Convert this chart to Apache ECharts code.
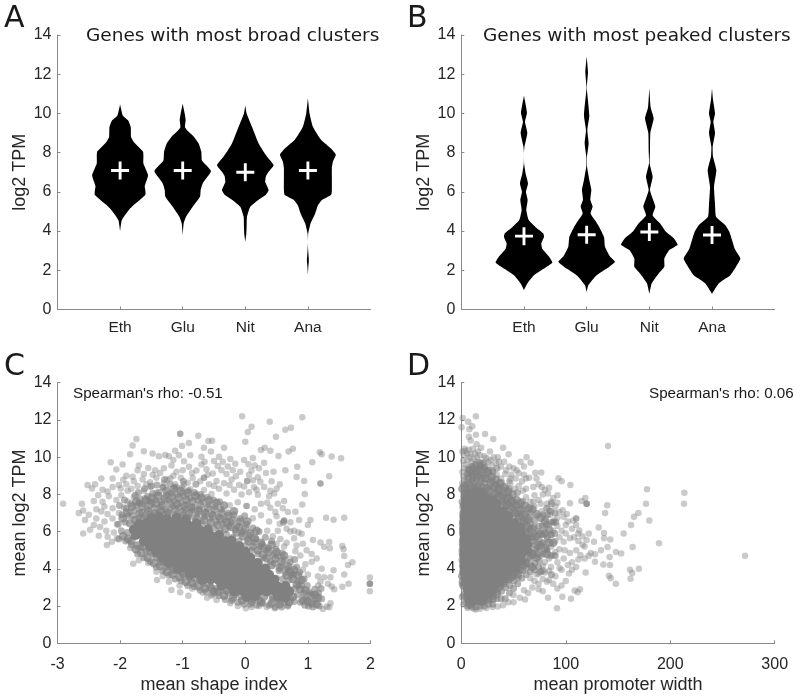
<!DOCTYPE html>
<html><head><meta charset="utf-8"><style>html,body{margin:0;padding:0;background:#fff}#c{width:800px;height:698px}</style>
<script src="https://cdn.jsdelivr.net/npm/echarts@6/dist/echarts.min.js"></script></head><body><div id="c"></div>
<script>
const categories=['Eth','Glu','Nit','Ana'];
// violin outlines: [log2 TPM, density]
const broadEth=[[4.0,0],[4.55,5],[5.05,25],[5.35,42],[5.6,60],[5.85,76],[6.05,76],[6.3,74],[6.85,84],[7.45,70],[7.8,70],[8.05,69],[8.3,55],[8.5,43],[8.8,33],[9.3,32],[9.65,24],[9.9,8],[10.45,0]];
const broadGlu=[[3.8,0],[4.4,3],[4.73,10],[5.24,30],[5.75,52],[6.1,54],[6.43,60],[7.06,85],[7.6,58],[8.04,56],[8.47,48],[8.8,34],[9.06,18],[9.3,7],[9.66,9],[10,6],[10.5,0]];
const broadNit=[[3.45,0],[3.85,3],[4.2,4],[4.73,5],[5.24,15],[5.6,40],[5.85,62],[6.09,70],[6.5,60],[6.8,62],[7.02,70],[7.36,85],[7.8,65],[8.47,40],[9.32,20],[10,4],[10.4,0]];
const broadAna=[[1.8,0],[2.2,1.5],[2.5,3],[3.0,1],[3.45,0],[3.88,1],[4.39,8],[4.9,22],[5.3,30],[5.58,42],[5.85,70],[6.09,72],[6.77,72],[7.2,72],[7.53,75],[7.9,84],[8.2,70],[8.64,40],[9.32,15],[10,5],[10.77,0]];
const peakEth=[[1.0,0],[1.33,10],[1.75,30],[2.18,68],[2.4,85],[2.7,75],[3.1,55],[3.37,52],[3.7,60],[3.88,58],[4.2,35],[4.56,14],[5.07,7],[5.58,11],[6.0,6],[6.43,12],[6.94,5],[7.45,0.5],[7.96,0],[8.3,1.5],[9.0,10],[9.57,3],[10.03,9],[10.9,0]];
const peakGlu=[[0.9,0],[1.24,5],[1.75,30],[2.18,68],[2.43,85],[2.7,70],[3.2,55],[3.7,52],[4.2,38],[4.55,25],[4.9,12],[5.25,18],[5.6,11],[6.1,14],[6.6,8],[7.3,1],[7.8,1],[8.47,6],[9.15,2],[9.9,8],[11.3,0.5],[12.1,4],[12.9,0]];
const peakNit=[[0.8,0],[1.33,7],[1.84,28],[2.18,45],[2.6,45],[3.03,60],[3.3,85],[3.6,75],[3.96,50],[4.4,32],[4.8,10],[5.24,18],[5.66,10],[6.1,2],[6.77,10],[7.45,1],[8.1,2],[9,3],[9.75,13],[10.3,4],[11.28,0]];
const peakAna=[[0.8,0],[1.33,20],[1.75,55],[2.18,72],[2.6,85],[3.1,68],[3.54,60],[3.96,52],[4.3,40],[4.73,12],[5.4,9],[6.26,6],[7.1,13],[7.8,3],[8.3,2],[9,9],[9.57,4],[10,9],[10.7,3],[11.28,0]];
const broadMeans=[7.09,7.09,7.0,7.09];
const peakMeans=[3.74,3.81,3.95,3.8];
// panel C: single readable dots
const shapeLoose=[[-2.91,7.5],[-0.05,12.2],[0.91,12.14],[0.39,11.9],[0.1,11.64],[0.04,11.35],[0.73,11.58],[0.64,11.47],[0.49,11.1],[-1.04,11.26],[-1.04,11.26],[-0.75,11.15],[-1.74,10.97],[-1.8,10.63],[0,10.83],[-0.59,10.87],[-0.53,10.88],[-0.9,10.76],[-1.01,10.6],[-0.66,10.5],[-0.34,10.5],[0.31,10.5],[0.25,10.38],[0.4,10.35],[0.76,10.45],[0.69,10.3],[0.53,10.06],[1.19,10.26],[1.22,10.15],[1.38,10.04],[1.53,9.94],[1.07,9.72],[0.83,9.49],[0.64,9.29],[0.45,9.22],[0.33,9.15],[0.82,8.93],[0.94,8.72],[1.34,8.97],[1.2,8.59],[1.2,8.59],[0.95,8.02],[0.91,7.45],[0.8,7.07],[1.04,6.62],[1.29,6.75],[1.41,6.64],[1.58,6.75],[1,6.36],[0.86,6.62],[1.08,5.55],[0.9,5.89],[1.99,3.54],[1.99,3.2],[1.99,3.2],[1.99,3.2],[1.99,2.8],[1.71,4.35],[1.64,4.2],[1.58,4.69],[1.55,5.23],[1.57,5.05],[1.35,5.1],[1.34,5.44],[1.2,5.42],[1.26,5.19],[1.41,3.92],[1.58,3.69],[1.65,3.2],[1.55,3.04],[1.36,3.55],[1.38,3.05],[1.42,2.9],[-2.66,7],[-2.61,7.5],[-2.59,7.14],[-2.56,6.62],[-2.59,5.9],[-2.48,6.1],[-2.52,8.5],[-2.45,8.32],[-2.3,8.86],[-2.15,9.72],[-1.96,9.61],[-2.06,9.34],[-1.84,10.15],[-2.34,5.78],[-2.2,5.73],[-2.21,5.28],[-2.13,5.46],[-1.79,4.28],[-1.7,4.46],[-1.41,3.4],[-1.18,2.86],[-1.04,2.74],[-0.91,2.56],[-0.61,2.45],[-0.46,2.33],[0.01,1.88],[0.47,1.88],[1.24,1.84],[1.34,1.93]];
// panel C: the thick spread around the mass
const shapeSpread=[[-1.62,10.32],[-1.38,10.05],[-1.28,10.12],[-1.12,10.35],[-1.06,10.1],[-0.98,9.78],[-0.7,10.02],[-0.55,10.3],[-0.42,10.02],[-0.36,9.75],[-0.16,9.65],[-0.02,9.85],[0.05,9.62],[0.15,9.55],[-0.28,9.5],[-1.55,9.42],[-1.44,9.3],[-1.36,9.15],[-1.3,9.4],[-1.18,9.55],[-1.1,9.22],[-1,9.3],[-0.9,9.48],[-0.78,9.28],[-0.7,9.6],[-0.62,9.35],[-0.52,9.12],[-0.44,9.52],[-0.3,9.1],[-0.2,9.3],[-0.08,9.22],[0.06,9.05],[0.12,8.76],[0.2,8.92],[-1.9,9],[-1.8,8.95],[-1.72,9.3],[-1.64,8.8],[-1.52,8.65],[-1.42,8.9],[-1.3,8.6],[-1.2,8.85],[-1.12,8.55],[-1.03,8.9],[-0.92,8.62],[-0.84,8.88],[-0.72,8.7],[-0.66,8.9],[-0.66,8.9],[-0.58,8.55],[-0.46,8.72],[-0.34,8.6],[-0.22,8.8],[-0.1,8.5],[0.03,8.72],[0.03,8.72],[0.14,8.38],[0.24,8.68],[0.46,8.05],[0.5,8.3],[-2.2,8.15],[-2.12,8.4],[-2.02,8.5],[-1.99,8.32],[-1.9,8.55],[-1.82,8.3],[-1.72,8.45],[-1.62,8.2],[-1.52,8.38],[-1.42,8.1],[-1.32,8.35],[-1.22,8.05],[-1.12,8.3],[-1,8.08],[-0.88,8.28],[-0.78,8.02],[-0.66,8.24],[-0.54,8.02],[-0.42,8.3],[-0.3,8.05],[-0.18,8.25],[-0.06,8],[0.06,8.12],[0.2,7.98],[0.38,7.9],[-2.35,7.95],[-2.28,7.6],[-2.18,7.9],[-2.06,7.7],[-1.98,7.95],[-1.88,7.62],[-1.78,7.85],[-1.7,7.55],[-1.7,7.55],[-1.6,7.8],[-1.5,7.55],[-0.25,7.42],[-0.12,7.58],[0.02,7.38],[0.02,7.38],[0.15,7.2],[0.25,7.5],[0.4,7.28],[0.52,7.5],[0.62,7.65],[-2.38,7.2],[-2.3,7.08],[-2.2,6.95],[-2.12,7.25],[-2.02,7],[-1.94,7.3],[-1.84,7.05],[0.12,6.72],[0.25,6.88],[0.38,6.55],[0.5,6.82],[0.55,6.42],[0.62,6.6],[0.62,6.6],[0.66,6.15],[0.72,6.0],[-2.42,6.35],[-2.38,6.7],[-2.25,6.55],[-2.12,6.7],[-2.05,6.4],[0.35,6.05],[0.44,5.75],[0.52,6.05],[0.56,5.6],[0.66,5.4],[0.78,5.65],[0.82,5.25],[-2.22,6.05],[-2.1,5.95],[0.5,5.35],[0.62,5.2],[0.72,4.55],[0.8,4.95],[0.88,4.72],[0.96,4.25],[0.92,3.95],[1,3.7],[-1.84,5.12],[-1.55,4.32],[-1.42,3.85],[-1.32,3.62],[-1.22,3.3],[-1.05,3.1],[-0.85,2.95],[-0.68,2.72],[-0.54,2.55],[-0.24,2.15],[-0.12,2.0],[0.1,1.95],[0.22,2.0],[0.34,1.95],[0.68,1.98],[0.72,2.9],[0.86,3.1],[0.92,2.5],[1.06,4.38],[1.16,3.6],[1.22,4],[1.3,1.98],[1.36,2.15],
[-1.48,10.2],[-1.7,9.55],[-1.62,9.1],[-1.22,10.05],[-1.15,9.85],[-0.88,10.1],[-0.65,9.75],[-0.5,9.8],[-0.24,9.9],[0.12,9.95],[0.22,9.4],[0.3,9.7],[0.1,9.3],[-0.15,8.98],[-0.38,9.3],[-0.6,9.05],[-0.85,9.15],[-1.15,9],[-1.48,9.05],[-1.78,8.7],[-2.12,8.85],[-2.28,8.25],[-2.4,8.55],[-1.95,8.78],[0.3,8.4],[0.42,8.7],[0.55,8.55],[0.35,7.55],[0.48,7.05],[0.6,7.25],[0.68,7.05],[0.72,6.5],[0.78,6.05],[0.85,5.95],[0.92,5.35],[0.98,5],[1.06,4.8],[1.14,4.55],[1.2,3.3],[1.26,3.55],[1.32,3.2],[1.16,3.1],[0.4,8.2],[0.18,8.25],[-0.02,8.42],[-0.25,8.5],[-0.5,8.45],[-0.98,8.55],[-1.25,8.8],[-1.58,8.55],[-1.88,8.2],[-2.25,7.35],[-2.42,7.65],[-2.5,6.9],[-2.32,6.25],[-2.05,5.65]];
// panel C: darker edge of the mass
const shapeDense=[[-2.02,5.6],[-1.98,6.05],[-2.03,6.4],[-1.97,6.9],[-2.01,7.4],[-1.91,5.5],[-1.88,5.95],[-1.92,6.5],[-1.87,6.85],[-1.9,7.25],[-1.93,7.7],[-1.82,5.3],[-1.78,5.75],[-1.8,6.85],[-1.77,7.15],[-1.83,7.5],[-1.76,7.95],[-1.72,4.8],[-1.67,5.15],[-1.7,6.75],[-1.66,7.05],[-1.73,7.4],[-1.68,7.75],[-1.71,8.1],[-1.62,4.6],[-1.58,4.95],[-1.6,6.85],[-1.57,7.2],[-1.63,7.5],[-1.56,7.9],[-1.61,8.3],[-1.52,4.4],[-1.47,4.8],[-1.51,6.95],[-1.46,7.3],[-1.53,7.65],[-1.48,8.05],[-1.5,8.45],[-1.42,4.1],[-1.37,4.55],[-1.4,7],[-1.36,7.3],[-1.43,7.7],[-1.38,8.1],[-1.41,8.5],[-1.32,3.9],[-1.28,4.35],[-1.3,6.95],[-1.27,7.2],[-1.33,7.6],[-1.26,7.95],[-1.31,8.4],[-1.29,8.8],[-1.22,3.65],[-1.17,4.05],[-1.21,7],[-1.16,7.35],[-1.23,7.7],[-1.18,8.05],[-1.2,8.55],[-1.12,3.45],[-1.07,3.9],[-1.1,6.95],[-1.06,7.3],[-1.13,7.65],[-1.08,8],[-1.11,8.4],[-1.02,3.35],[-0.97,3.7],[-1,6.9],[-0.96,7.2],[-1.03,7.55],[-0.98,7.9],[-1.01,8.35],[-0.99,8.7],[-0.92,3.1],[-0.87,3.45],[-0.9,6.8],[-0.86,7.15],[-0.93,7.45],[-0.88,7.8],[-0.91,8.2],[-0.82,3.05],[-0.78,3.4],[-0.8,6.6],[-0.77,6.95],[-0.83,7.3],[-0.76,7.7],[-0.81,8.1],[-0.79,8.55],[-0.72,2.85],[-0.67,3.2],[-0.7,6.45],[-0.66,6.8],[-0.73,7.2],[-0.68,7.6],[-0.71,8],[-0.62,2.75],[-0.57,3.1],[-0.6,6.3],[-0.56,6.7],[-0.63,7.05],[-0.58,7.45],[-0.61,7.85],[-0.52,2.65],[-0.47,2.95],[-0.5,6.2],[-0.46,6.55],[-0.53,6.95],[-0.48,7.35],[-0.51,7.7],[-0.42,2.55],[-0.37,2.85],[-0.4,6.05],[-0.36,6.4],[-0.43,6.8],[-0.38,7.2],[-0.41,7.6],[-0.32,2.35],[-0.27,2.7],[-0.3,5.85],[-0.26,6.3],[-0.33,6.65],[-0.28,7],[-0.22,2.3],[-0.17,2.6],[-0.2,5.7],[-0.16,6.1],[-0.23,6.5],[-0.18,6.9],[-0.12,2.2],[-0.07,2.5],[-0.1,5.5],[-0.06,5.9],[-0.13,6.3],[-0.08,6.7],[-0.02,2.1],[0.03,2.4],[0,5.25],[0.04,5.6],[-0.03,6],[0.02,6.4],[-0.01,6.85],[0.08,2.1],[0.13,2.35],[0.1,5],[0.14,5.4],[0.07,5.8],[0.12,6.2],[0.18,2.05],[0.23,2.3],[0.2,4.8],[0.24,5.2],[0.17,5.6],[0.22,6],[0.28,2.15],[0.3,4.6],[0.34,5],[0.27,5.35],[0.32,5.7],[0.38,2.05],[0.43,2.35],[0.4,4.4],[0.44,4.75],[0.37,5.1],[0.42,5.5],[0.48,1.95],[0.53,2.25],[0.5,3.5],[0.54,3.9],[0.47,4.3],[0.52,4.7],[0.49,5.05],[0.58,1.95],[0.63,2.2],[0.6,3.45],[0.64,3.8],[0.57,4.15],[0.62,4.5],[0.59,4.85],[0.61,6.5],[0.68,2.05],[0.73,2.4],[0.7,3.4],[0.74,3.7],[0.67,4],[0.72,4.35],[0.78,2.25],[0.83,2.6],[0.8,2.95],[0.84,3.3],[0.77,3.7],[0.82,4.1],[0.79,4.5],[0.88,2.2],[0.93,2.7],[0.9,3.1],[0.94,3.45],[0.87,3.8],[1.01,2],[0.97,2.4],[1.02,2.75],[0.99,3.1],[1.08,1.95],[1.12,2.3],[1.07,2.65],[1.11,2.9],[1.18,2],[1.22,2.4],[1.17,2.7],[1.21,2.95],[0.95,2.05]];
// panel C: filling between edge and mass
const shapeFill=[[-1.96,6.72],[-1.89,7.02],[-1.84,6.45],[-1.81,7.35],[-1.76,6.62],[-1.74,7.62],[-1.69,6.98],[-1.65,7.35],[-1.63,6.72],[-1.59,7.68],[-1.55,7.08],[-1.52,7.45],[-1.49,7.82],[-1.44,6.98],[-1.42,7.5],[-1.39,7.92],[-1.35,7.1],[-1.33,7.42],[-1.29,7.78],[-1.26,8.2],[-1.24,7.05],[-1.2,7.5],[-1.17,7.88],[-1.14,8.3],[-1.12,7.2],[-1.09,7.48],[-1.06,7.82],[-1.03,8.18],[-1,7.05],[-0.97,7.38],[-0.94,7.7],[-0.92,8.08],[-0.89,6.98],[-0.86,7.3],[-0.84,7.62],[-0.8,7.92],[-0.78,6.72],[-0.75,7.1],[-0.72,7.42],[-0.7,7.82],[-0.66,6.62],[-0.64,6.98],[-0.6,7.28],[-0.58,7.68],[-0.55,6.48],[-0.52,6.85],[-0.49,7.18],[-0.46,7.55],[-0.44,6.35],[-0.4,6.7],[-0.38,7],[-0.34,7.4],[-0.32,6.15],[-0.3,6.5],[-0.27,6.85],[-0.23,6.25],[-0.2,6.62],[-0.18,7.1],[-0.14,5.95],[-0.1,6.25],[-0.08,6.55],[-0.04,5.75],[0,6.15],[0.03,6.55],[0.05,5.5],[0.08,5.9],[0.12,5.2],[0.15,5.65],[0.18,6.05],[0.2,5],[0.25,5.4],[0.28,4.75],[0.3,5.15],[0.34,4.55],[0.38,4.9],[0.42,5.3],[0.42,4.2],[0.48,4.55],[0.5,4.9],[0.55,4.05],[0.58,4.4],[0.62,4.72],[0.66,3.65],[0.68,4.15],[0.72,3.85],[0.76,3.45],[0.78,3.95],[0.82,3.15],[0.84,3.65],[0.88,2.9],[0.9,3.4],[0.92,2.3],[0.96,2.85],[1,2.25],[1.04,2.55],[1.06,2.15],[1.12,2.6],[1.14,2.1],[1.16,2.45],[-1.95,5.75],[-1.87,5.6],[-1.82,5.5],[-1.75,5.05],[-1.72,5.25],[-1.66,4.85],[-1.62,5.2],[-1.56,4.6],[-1.52,4.95],[-1.46,4.3],[-1.42,4.65],[-1.36,4.15],[-1.34,4.4],[-1.26,3.85],[-1.24,4.15],[-1.16,3.7],[-1.14,3.95],[-1.05,3.55],[-1,3.75],[-0.95,3.3],[-0.9,3.6],[-0.85,3.25],[-0.75,3.05],[-0.72,3.4],[-0.64,2.95],[-0.55,3],[-0.5,2.8],[-0.44,2.75],[-0.34,2.55],[-0.3,2.85],[-0.2,2.45],[-0.14,2.75],[-0.05,2.3],[0,2.62],[0.1,2.25],[0.14,2.5],[0.25,2.2],[0.3,2.5],[0.42,2.15],[0.44,2.55],[0.55,2.1],[0.7,2.2],[0.76,2.5]];
// panel C: the solid mass
const shapeCore=[[-1.5,6.7],[-1.38,6.78],[-1.25,6.68],[-1.1,6.75],[-0.95,6.65],[-1.7,6.4],[-1.58,6.45],[-1.45,6.38],[-1.32,6.46],[-1.18,6.4],[-1.05,6.44],[-0.92,6.37],[-0.78,6.42],[-1.78,6.1],[-1.66,6.14],[-1.52,6.08],[-1.4,6.13],[-1.26,6.06],[-1.12,6.12],[-0.98,6.08],[-0.85,6.14],[-0.72,6.06],[-0.6,6.1],[-1.75,5.82],[-1.62,5.78],[-1.48,5.84],[-1.35,5.78],[-1.22,5.84],[-1.08,5.78],[-0.95,5.83],[-0.82,5.78],[-0.68,5.84],[-0.55,5.78],[-0.42,5.82],[-1.62,5.5],[-1.5,5.54],[-1.38,5.48],[-1.25,5.53],[-1.12,5.47],[-0.98,5.53],[-0.85,5.48],[-0.72,5.53],[-0.58,5.47],[-0.45,5.52],[-0.32,5.48],[-0.22,5.52],[-1.52,5.2],[-1.4,5.24],[-1.28,5.18],[-1.15,5.24],[-1.02,5.18],[-0.88,5.23],[-0.75,5.18],[-0.62,5.23],[-0.48,5.17],[-0.35,5.23],[-0.22,5.18],[-0.1,5.22],[-1.42,4.9],[-1.3,4.94],[-1.18,4.88],[-1.05,4.94],[-0.92,4.88],[-0.78,4.93],[-0.65,4.88],[-0.52,4.93],[-0.38,4.88],[-0.25,4.93],[-0.12,4.88],[0,4.92],[-1.32,4.6],[-1.2,4.64],[-1.08,4.58],[-0.95,4.63],[-0.82,4.58],[-0.68,4.63],[-0.55,4.58],[-0.42,4.63],[-0.28,4.58],[-0.15,4.63],[-0.02,4.58],[0.08,4.6],[-1.22,4.3],[-1.1,4.34],[-0.98,4.28],[-0.85,4.33],[-0.72,4.28],[-0.58,4.33],[-0.45,4.28],[-0.32,4.33],[-0.18,4.28],[-0.05,4.33],[0.08,4.28],[0.2,4.32],[-1.08,4],[-0.95,4.04],[-0.82,3.98],[-0.7,4.03],[-0.56,3.98],[-0.42,4.03],[-0.3,3.98],[-0.16,4.03],[-0.03,3.98],[0.1,4.03],[0.22,3.98],[0.32,4.02],[-0.88,3.7],[-0.76,3.74],[-0.62,3.68],[-0.5,3.73],[-0.36,3.68],[-0.23,3.73],[-0.1,3.68],[0.03,3.73],[0.16,3.68],[0.28,3.73],[0.38,3.68],[-0.68,3.4],[-0.55,3.43],[-0.42,3.38],[-0.28,3.43],[-0.15,3.38],[-0.02,3.43],[0.1,3.38],[0.22,3.43],[0.35,3.38],[0.46,3.42],[-0.38,3.1],[-0.25,3.14],[-0.12,3.08],[0,3.13],[0.13,3.08],[0.26,3.13],[0.38,3.08],[0.52,3.05],[0.64,3.08],[-0.18,2.8],[-0.05,2.84],[0.08,2.78],[0.22,2.83],[0.34,2.78],[0.48,2.8],[0.6,2.84],[0.7,2.78],[0.02,2.5],[0.16,2.54],[0.52,2.5],[0.64,2.46]];
// panel D: single readable dots
const widthLoose=[[271.6,4.7],[213.5,8.09],[213.2,7.5],[177.8,8.28],[176.8,7.5],[189.3,5.38],[180,6.6],[169.5,7],[165.3,6.8],[162.5,6.35],[164,5.17],[155.4,5.9],[140.4,10.6],[170,4],[161.5,3.95],[163.7,3.77],[162,3.47],[148,3.2],[143,3.5],[141.4,3.63],[142.4,4.2],[136,4.24],[142,4.63],[148,4.9],[153,4.83],[140,5.17],[142.6,5.58],[136.6,5.64],[136.6,5.92],[131.5,6.22],[137.6,7],[139.7,7.42],[118.7,7.8],[120,7.5],[120,7.5],[120,7.5],[115,7.64],[104.4,8.5],[96,8.7],[93,8.87],[92,7.96],[104,7.53],[110,6.7],[110,6.7],[113,6.06],[122,5.9],[127,5.46],[133.7,5],[128,4.78],[122,4.7],[128,4.38],[119,3.8],[113.6,2.9],[111.4,2.74],[108.5,2.83],[105,2.4],[96.7,2.5],[83,2.45],[91.6,1.88],[70.8,9.16],[76.5,9.18],[66.4,9.7],[62.5,10],[56.8,9.75],[45.3,10.16],[40,10.5],[30.6,10.97],[22.7,11.25],[14,12.2],[1.3,12.1],[0.3,11.6],[6.7,11.9],[10.5,11.66],[7.7,11.5],[14,11.2],[7.3,11.1],[9,10.9],[14.7,10.7],[19,10.5],[27.4,10.3],[35,10],[60,9.5],[53,9.3]];
// panel D: the thick spread around the mass
const widthSpread=[[1,10.3],[2.5,10.1],[4,10.35],[5.5,10.2],[7,10.4],[9,10.15],[11,10.45],[13,10.2],[16,10.3],[22,10.05],[2,9.8],[4,9.6],[6,9.85],[8,9.5],[10,9.75],[13,9.6],[16,9.75],[18,9.55],[20,9.7],[23,9.5],[26,9.75],[29,9.55],[33,9.7],[38,9.5],[43,9.3],[48,9.05],[1,9.2],[3,9.4],[5,9.1],[7,9.3],[10,9.05],[12,9.35],[15,9.15],[18,9.35],[21,9.1],[24,9.3],[27,9.05],[30,9.3],[34,9.05],[38,8.85],[42,9.1],[46,8.7],[52,8.85],[58,8.7],[62,8.85],[1,8.6],[3,8.8],[35,8.4],[39,8.65],[43,8.35],[47,8.6],[51,8.3],[55,8.45],[59,8.2],[62,8.3],[69,8.4],[74,8.55],[80,8.25],[84,8.35],[2,8.1],[59,7.65],[62,7.85],[66,7.6],[70,7.95],[74,7.7],[78,8],[82,7.5],[86,7.6],[90,7.35],[1,7.3],[2,6.7],[66,7.05],[70,7.35],[73,6.85],[77,7.1],[81,6.7],[85,6.9],[89,6.6],[94,7.05],[98,6.8],[102,6.55],[80,6.2],[84,6.35],[88,6.05],[92,6.3],[96,6.05],[100,6.35],[106,6.15],[112,5.9],[116,5.75],[82,5.55],[86,5.8],[90,5.5],[94,5.7],[98,5.45],[104,5.65],[108,5.7],[112,5.5],[116,5.3],[120,5.55],[78,5.4],[82,5.05],[86,5.2],[90,4.9],[94,5.05],[99,5],[104,4.85],[110,5],[114,4.75],[118,4.55],[124,4.85],[76,4.7],[80,4.35],[84,4.55],[88,4.75],[92,4.35],[98,4.55],[102,4.2],[106,4.35],[112,4.5],[74,3.75],[78,4.15],[84,3.9],[90,3.6],[96,3.95],[100,3.35],[103,3.75],[70,3.35],[74,3.2],[78,3.45],[82,3.3],[88,3.2],[96,3.1],[60,2.85],[64,2.7],[68,3],[74,2.9],[50,2.6],[56,2.45],[61,2.35],[45,2.2],[40,2.05],[30,1.95],[24,1.9],[18,1.85],[12,1.85],[6,1.9],[2,2.1],[0.5,3.2],[0.3,5],[0.5,5.4],[0.8,6],[0.8,6.6],
[3,10.45],[8,10],[12,9.9],[15,10],[18,10.1],[24,9.95],[31,10],[36,9.75],[41,9.75],[46,9.5],[50,9.4],[55,9.15],[60,9.05],[65,8.9],[72,8.85],[77,8.4],[83,8.05],[88,7.8],[92,7.55],[97,7.15],[101,6.95],[107,6.6],[69,7.6],[76,7.5],[84,7.15],[92,6.75],[100,5.9],[110,6.35],[118,5.2],[72,5],[80,3.8],[86,4.1],[94,4.05],[106,3.95],[110,4.1],[66,3.5],[72,3.7],[84,3.4],[92,2.95],[78,2.8],[50,2.2],[35,1.98],[14,1.82],[9,2.05],[47,8.85],[28,9.85],[6,9.35],[2,8.95]];
// panel D: darker edge of the mass
const widthDense=[[1,2.5],[0.8,3.3],[1.4,3.9],[0.6,4.5],[1.2,5.2],[1.5,5.8],[0.9,6.4],[1.3,7],[0.7,7.6],[4,2.2],[3.5,8.1],[4.5,8.5],[6,2],[5.5,2.4],[6.5,8.3],[5.8,8.7],[6.2,9.1],[10,1.95],[10.5,2.2],[9.5,8.35],[10.4,8.75],[9.8,9.15],[10.2,9.5],[14,1.95],[14.5,2.25],[13.5,8.4],[14.4,8.8],[13.8,9.2],[14.2,9.6],[18,2],[18.6,2.2],[17.5,8.25],[18.4,8.65],[17.8,9.05],[18.3,9.5],[17.7,9.7],[22,2],[22.4,2.3],[21.6,8.2],[22.5,8.6],[21.8,9],[22.3,9.45],[21.7,9.7],[26,2.1],[26.5,2.4],[25.6,8],[26.4,8.4],[25.8,8.8],[26.3,9.3],[30,2.1],[30.4,2.5],[29.6,7.9],[30.5,8.3],[29.8,8.7],[30.3,9.2],[34,2.4],[34.5,2.75],[33.6,7.75],[34.4,8.1],[33.7,8.55],[34.2,9.4],[38,2.4],[38.5,2.8],[37.7,3.1],[38.3,7.6],[37.6,7.95],[38.4,8.3],[42,2.4],[42.5,3],[41.6,3.3],[42.4,7.35],[41.7,7.7],[42.3,8.05],[46,2.7],[46.5,3.1],[45.6,3.4],[46.4,7.1],[45.7,7.5],[46.3,7.85],[45.8,8.3],[50,2.95],[50.5,3.35],[49.6,3.7],[50.4,6.9],[49.7,7.25],[50.3,7.6],[54,3.2],[54.5,3.55],[53.6,3.9],[54.4,6.7],[53.7,7],[54.3,7.4],[53.8,8.1],[58,3.5],[58.5,3.9],[57.6,4.2],[58.4,6.45],[57.7,6.8],[58.3,7.2],[62,3.7],[62.5,4.05],[61.6,4.4],[62.4,6.2],[61.7,6.6],[62.3,7],[66,3.85],[66.5,4.2],[65.6,4.55],[66.4,4.9],[65.7,5.3],[66.3,5.7],[65.8,6.1],[66.2,6.45],[65.9,6.8],[70,3.95],[70.5,4.3],[69.6,4.7],[70.4,5.05],[69.7,5.5],[70.3,5.9],[69.8,6.25],[70.2,6.6],[74,4.1],[74.5,4.45],[73.6,5.2],[74.4,5.6],[73.7,6],[74.3,6.3],[76,3.85],[78,3.9],[78.5,4.8],[77.6,5.4],[78.4,5.85],[77.7,6.3],[78.3,6.9],[82,5],[82.5,5.7],[81.6,6.4],[82.4,6.9],[81.7,7.25],[86,5.85],[86.5,6.5],[85.6,7.1],[86.4,7.5],[85.7,4.7],[86.3,3.7],[90,4.7],[89.5,5.9],[90.4,6.5],[89.7,7],[88,6.5]];
// panel D: filling between edge and mass
const widthFill=[[5,8.2],[8,8.5],[3,8.45],[7,8.9],[12,8.55],[11,8.95],[16,8.45],[15,8.95],[20,8.4],[19,8.85],[24,8.3],[23,8.85],[27,8.2],[28,8.6],[32,8.05],[32,8.45],[36,7.9],[36,8.25],[40,7.55],[40,7.95],[44,7.45],[44,7.8],[48,7.3],[48,7.65],[52,7],[52,7.4],[56,6.8],[56,7.15],[60,6.55],[60,6.9],[64,6.25],[64,6.65],[68,5.7],[68,6.15],[72,5.3],[72,5.75],[76,5.25],[76,5.9],[80,5.1],[64,5.8],[62,5.95],[68,4.8],[72,4.6],[64,4.65],[62,4.3],[68,4.1],[60,4.2],[56,3.95],[54,3.7],[50,3.65],[48,3.55],[44,3.45],[42,3.55],[40,3.2],[38,3.3],[36,3],[32,2.95],[34,2.65],[28,2.65],[30,2.4],[26,2.35],[22,2.5],[17,2.35],[12,2.2],[8,2.1],[3,2.6],[2,3.1],[1,3.6],[2,4.2],[1.5,4.8],[2,5.5],[2,6.1],[2.5,6.9],[2.5,7.4],[3,7.9],[1,8.3],[8,9.3],[12,9.4],[16,9.3],[20,9.35],[25,9.2],[29,8.95],[33,8.8],[37,8.6],[41,8.4],[45,8.15],[49,8],[53,7.7],[57,7.55],[61,7.4],[65,7.25],[68,7.2],[72,6.95],[76,6.75],[80,6.55],[84,6.1],[80,5.9],[84,5.4],[88,5.4],[82,4.8],[74,4.85]];
// panel D: the solid mass
const widthCore=[[8,8.05],[14,8.15],[20,8.05],[5,7.75],[11,7.8],[17,7.72],[24,7.8],[30,7.7],[4,7.45],[10,7.5],[16,7.42],[22,7.5],[28,7.44],[34,7.5],[4,7.1],[10,7.18],[16,7.1],[22,7.17],[28,7.1],[34,7.18],[40,7.1],[3,6.8],[9,6.86],[15,6.8],[21,6.85],[27,6.78],[33,6.85],[39,6.78],[45,6.84],[3,6.5],[9,6.55],[15,6.48],[21,6.54],[27,6.48],[33,6.54],[39,6.48],[45,6.54],[51,6.46],[3,6.2],[9,6.25],[15,6.18],[21,6.24],[27,6.18],[33,6.24],[39,6.18],[45,6.24],[51,6.18],[56,6.24],[3,5.9],[9,5.95],[15,5.88],[21,5.94],[27,5.88],[33,5.94],[39,5.88],[45,5.94],[51,5.88],[57,5.94],[3,5.6],[9,5.65],[15,5.58],[21,5.64],[27,5.58],[33,5.64],[39,5.58],[45,5.64],[51,5.58],[57,5.64],[62,5.58],[3,5.3],[9,5.35],[15,5.28],[21,5.34],[27,5.28],[33,5.34],[39,5.28],[45,5.34],[51,5.28],[57,5.34],[63,5.28],[3,5],[9,5.05],[15,4.98],[21,5.04],[27,4.98],[33,5.04],[39,4.98],[45,5.04],[51,4.98],[57,5.04],[63,4.98],[3,4.7],[9,4.75],[15,4.68],[21,4.74],[27,4.68],[33,4.74],[39,4.68],[45,4.74],[51,4.68],[57,4.74],[3,4.4],[9,4.45],[15,4.38],[21,4.44],[27,4.38],[33,4.44],[39,4.38],[45,4.44],[51,4.38],[57,4.44],[3,4.1],[9,4.15],[15,4.08],[21,4.14],[27,4.08],[33,4.14],[39,4.08],[45,4.14],[52,4.08],[3,3.8],[9,3.85],[15,3.78],[21,3.84],[27,3.78],[33,3.84],[39,3.78],[45,3.84],[4,3.5],[10,3.55],[16,3.48],[22,3.54],[28,3.48],[34,3.54],[40,3.48],[5,3.2],[11,3.25],[17,3.18],[23,3.24],[29,3.18],[35,3.24],[6,2.9],[12,2.95],[18,2.88],[24,2.94],[30,2.88],[7,2.6],[13,2.65],[19,2.58],[25,2.64],[8,2.3],[14,2.35],[20,2.28]];

const plusPath='path://M8.4 0H11.6V8.4H20V11.6H11.6V20H8.4V11.6H0V8.4H8.4Z';
const axisColor='#8a8a8a', textColor='#262626', sans='"Liberation Sans",Arial,sans-serif', wide='"DejaVu Sans",Verdana,sans-serif';
const DENSITY_TO_X=1/188;
const grids=[{left:57.5,top:35,width:313,height:274.5},{left:461.3,top:35,width:313.4,height:274.5},{left:57.5,top:382.7,width:313,height:260.6},{left:461.3,top:382.7,width:313.4,height:260.6}];
function yAxis(i,name,gap){return{gridIndex:i,type:'value',min:0,max:14,interval:2,name,nameLocation:'middle',nameGap:gap,nameMoveOverlap:false,nameTextStyle:{color:textColor,fontFamily:sans,fontSize:18},
 axisLine:{show:true,onZero:false,lineStyle:{color:axisColor}},axisTick:{show:true,inside:true,length:3,lineStyle:{color:axisColor}},axisLabel:{color:textColor,fontFamily:sans,fontSize:16,margin:6,padding:[4,0,0,0]},splitLine:{show:false}};}
function catAxis(i){return{gridIndex:i,type:'value',min:0,max:5,interval:1,axisLine:{show:true,onZero:false,lineStyle:{color:axisColor}},axisTick:{show:true,inside:true,length:3,lineStyle:{color:axisColor},customValues:[1,2,3,4]},
 axisLabel:{color:textColor,fontFamily:sans,fontSize:15.5,margin:6,padding:[4,0,0,0],customValues:[1,2,3,4],formatter:v=>categories[v-1]||''},splitLine:{show:false}};}
function numAxis(i,min,max,interval,name){return{gridIndex:i,type:'value',min,max,interval,name,nameLocation:'middle',nameGap:33,nameMoveOverlap:false,nameTextStyle:{color:textColor,fontFamily:sans,fontSize:18},axisLine:{show:true,onZero:false,lineStyle:{color:axisColor}},axisTick:{show:true,inside:true,length:3,lineStyle:{color:axisColor}},axisLabel:{color:textColor,fontFamily:sans,fontSize:16,margin:9,padding:[4,0,0,0],showMinLabel:true,showMaxLabel:true},splitLine:{show:false}};}
function violin(i,outlines){return{type:'custom',xAxisIndex:i,yAxisIndex:i,silent:true,data:outlines.map((o,k)=>[k+1,o[0][0]]),encode:{x:0,y:1},clip:false,renderItem(p,api){const o=outlines[p.dataIndex],c=p.dataIndex+1;
 const pts=o.map(r=>api.coord([c-r[1]*DENSITY_TO_X,r[0]])).concat(o.slice().reverse().map(r=>api.coord([c+r[1]*DENSITY_TO_X,r[0]])));
 return{type:'polygon',shape:{points:pts,smooth:0.15},style:{fill:'#000'}};}};}
function means(i,vals){return{type:'scatter',xAxisIndex:i,yAxisIndex:i,silent:true,z:5,symbol:plusPath,symbolSize:18,itemStyle:{color:'#fff',opacity:1},data:vals.map((v,k)=>[k+1,v])};}
function dots(i,d,size,op){return{type:'scatter',xAxisIndex:i,yAxisIndex:i,silent:true,symbolSize:size,large:false,itemStyle:{color:'#808080',opacity:op},data:d};}
function label(text,left,top,size,fam){return{text,left,top,padding:0,textStyle:{color:'#1a1a1a',fontFamily:fam,fontSize:size,fontWeight:'normal'}};}
const chart=echarts.init(document.getElementById('c'),null,{renderer:'canvas'});
chart.setOption({animation:false,backgroundColor:'#fff',
 title:[label('A',4,4,30,wide),label('B',407,4,30,wide),label('C',4,352,30,wide),label('D',407,352,30,wide),
  label('Genes with most broad clusters',86,26.5,18.5,wide),label('Genes with most peaked clusters',483,26.5,18.5,wide),
  label("Spearman's rho: -0.51",73,386,15.2,sans),label("Spearman's rho: 0.06",649,386,15.2,sans)],
 grid:grids,
 xAxis:[catAxis(0),catAxis(1),numAxis(2,-3,2,1,'mean shape index'),numAxis(3,0,300,100,'mean promoter width')],
 yAxis:[yAxis(0,'log2 TPM',28),yAxis(1,'log2 TPM',28),yAxis(2,'mean log2 TPM',28),yAxis(3,'mean log2 TPM',28)],
 series:[violin(0,[broadEth,broadGlu,broadNit,broadAna]),means(0,broadMeans),violin(1,[peakEth,peakGlu,peakNit,peakAna]),means(1,peakMeans),
  dots(2,shapeSpread,6.5,0.42),dots(2,shapeLoose,6.5,0.42),dots(2,shapeDense,7,0.6),dots(2,shapeFill,8.5,0.7),dots(2,shapeCore,10,1),dots(3,widthSpread,6.5,0.42),dots(3,widthLoose,6.5,0.42),dots(3,widthDense,7,0.6),dots(3,widthFill,8.5,0.7),dots(3,widthCore,10,1)]});
</script></body></html>
